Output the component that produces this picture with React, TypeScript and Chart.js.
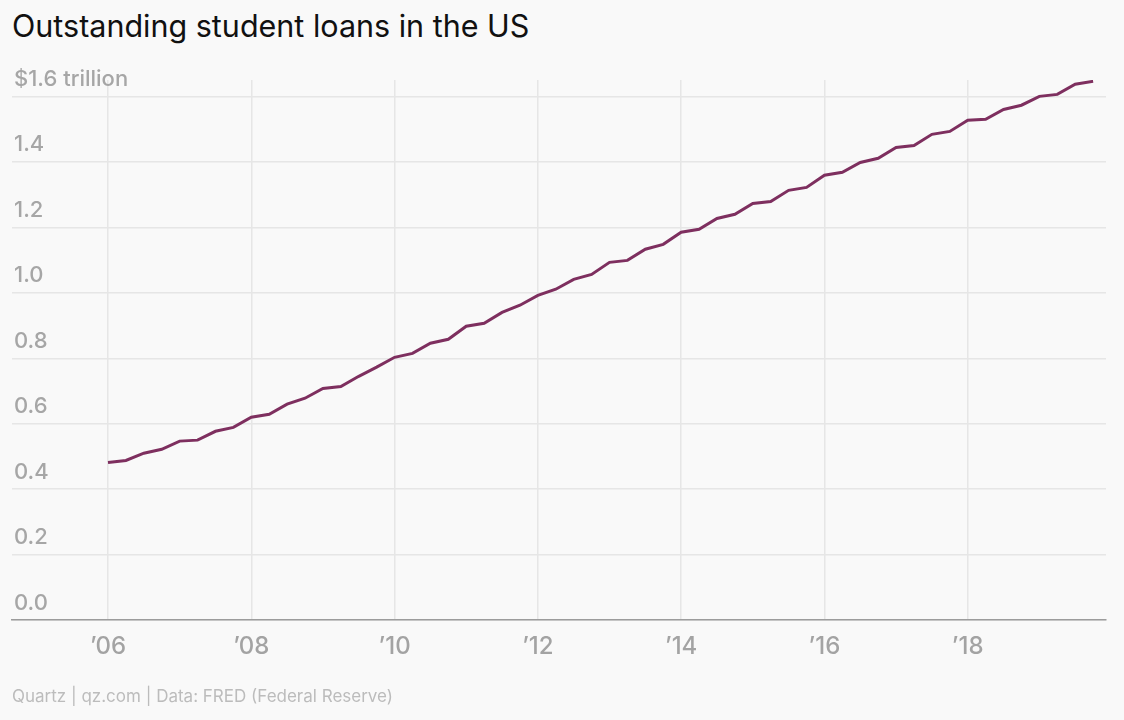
import React, { useEffect, useRef } from "react";
import { Chart, registerables } from "chart.js";

Chart.register(...registerables);

// Quarterly outstanding student loans, trillions of US dollars (FRED)
const quarterLabels = [
  "2006Q1", "2006Q2", "2006Q3", "2006Q4",
  "2007Q1", "2007Q2", "2007Q3", "2007Q4",
  "2008Q1", "2008Q2", "2008Q3", "2008Q4",
  "2009Q1", "2009Q2", "2009Q3", "2009Q4",
  "2010Q1", "2010Q2", "2010Q3", "2010Q4",
  "2011Q1", "2011Q2", "2011Q3", "2011Q4",
  "2012Q1", "2012Q2", "2012Q3", "2012Q4",
  "2013Q1", "2013Q2", "2013Q3", "2013Q4",
  "2014Q1", "2014Q2", "2014Q3", "2014Q4",
  "2015Q1", "2015Q2", "2015Q3", "2015Q4",
  "2016Q1", "2016Q2", "2016Q3", "2016Q4",
  "2017Q1", "2017Q2", "2017Q3", "2017Q4",
  "2018Q1", "2018Q2", "2018Q3", "2018Q4",
  "2019Q1", "2019Q2", "2019Q3", "2019Q4",
];

const loanValues = [
  0.482, 0.488, 0.510, 0.522,
  0.547, 0.550, 0.577, 0.589,
  0.620, 0.629, 0.660, 0.678,
  0.708, 0.714, 0.745, 0.773,
  0.803, 0.815, 0.846, 0.858,
  0.898, 0.907, 0.940, 0.962,
  0.992, 1.011, 1.041, 1.056,
  1.093, 1.099, 1.133, 1.148,
  1.185, 1.194, 1.227, 1.240,
  1.273, 1.279, 1.313, 1.322,
  1.359, 1.368, 1.398, 1.411,
  1.444, 1.450, 1.484, 1.493,
  1.527, 1.530, 1.560, 1.573,
  1.600, 1.606, 1.637, 1.646,
];

const xTickValues = [2006, 2008, 2010, 2012, 2014, 2016, 2018];
const xTickLabels = ["’06", "’08", "’10", "’12", "’14", "’16", "’18"];
const yTickValues = [0, 0.2, 0.4, 0.6, 0.8, 1.0, 1.2, 1.4, 1.6];
const yTickLabels = ["0.0", "0.2", "0.4", "0.6", "0.8", "1.0", "1.2", "1.4", "$1.6 trillion"];

const TITLE = "Outstanding student loans in the US";
const FOOTER = "Quartz | qz.com | Data: FRED (Federal Reserve)";

const FONT = "Inter, 'Liberation Sans', Arial, sans-serif";
const BG = "#f9f9f9";

function quarterToYear(q: string): number {
  const year = parseInt(q.slice(0, 4), 10);
  const qn = parseInt(q.slice(5), 10);
  return year + (qn - 1) / 4;
}

export default function App() {
  const canvasRef = useRef<HTMLCanvasElement | null>(null);

  useEffect(() => {
    document.body.style.margin = "0";
    document.body.style.background = BG;
    const canvas = canvasRef.current;
    if (!canvas) return;

    const points = quarterLabels.map((q, i) => ({ x: quarterToYear(q), y: loanValues[i] }));

    const chart = new Chart(canvas, {
      type: "line",
      data: {
        datasets: [
          {
            label: "Student loans",
            data: points,
            borderColor: "#7e2f5f",
            borderWidth: 3,
            pointRadius: 0,
            tension: 0,
            fill: false,
          },
        ],
      },
      options: {
        animation: false,
        responsive: true,
        maintainAspectRatio: false,
        layout: { padding: { left: 8, right: 18, top: 80, bottom: 47 } },
        plugins: {
          legend: { display: false },
          tooltip: { enabled: false },
          title: { display: false },
        },
        scales: {
          x: {
            type: "linear",
            min: 2004.66,
            max: 2019.93,
            afterBuildTicks: (scale: any) => {
              scale.ticks = xTickValues.map((v) => ({ value: v }));
            },
            ticks: {
              autoSkip: false,
              maxRotation: 0,
              padding: 12,
              color: "#a3a3a3",
              font: { family: FONT, size: 24, weight: 500 },
              callback: (value: any) => {
                const idx = xTickValues.indexOf(Number(value));
                return idx >= 0 ? xTickLabels[idx] : "";
              },
            },
            grid: {
              color: "#e6e6e6",
              lineWidth: 1.5,
              drawTicks: false,
            },
            border: { display: true, color: "#9c9c9c", width: 1.5 },
          },
          y: {
            type: "linear",
            min: 0,
            max: 1.65,
            afterBuildTicks: (scale: any) => {
              scale.ticks = yTickValues.map((v) => ({ value: v }));
            },
            ticks: {
              mirror: true,
              padding: 2,
              labelOffset: -17,
              color: "#a6a6a6",
              font: { family: FONT, size: 22, weight: 500 },
              callback: (value: any) => {
                const idx = yTickValues.findIndex((v) => Math.abs(v - Number(value)) < 1e-9);
                return idx >= 0 ? yTickLabels[idx] : "";
              },
            },
            grid: {
              color: "#e6e6e6",
              lineWidth: 1.5,
              drawTicks: false,
            },
            border: { display: false },
          },
        },
      },
    });

    return () => chart.destroy();
  }, []);

  return (
    <div style={{ position: "absolute", left: 0, top: 0, width: 1124, height: 720, background: BG }}>
      <div
        style={{
          position: "absolute",
          left: 12,
          top: 11,
          fontFamily: FONT,
          fontSize: 30.5,
          lineHeight: "30px",
          color: "#111",
          whiteSpace: "nowrap",
        }}
      >
        {TITLE}
      </div>
      <div style={{ position: "absolute", left: 0, top: 0, width: 1124, height: 720 }}>
        <canvas ref={canvasRef} />
      </div>
      <div
        style={{
          position: "absolute",
          left: 12,
          top: 688,
          fontFamily: FONT,
          fontSize: 17,
          lineHeight: "17px",
          color: "#bcbcbc",
          whiteSpace: "nowrap",
        }}
      >
        {FOOTER}
      </div>
    </div>
  );
}
